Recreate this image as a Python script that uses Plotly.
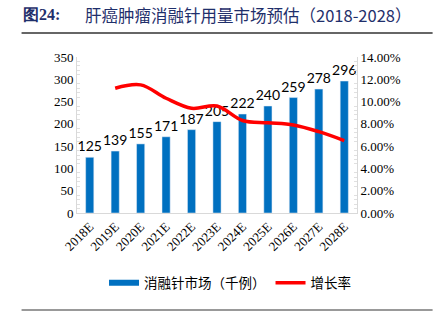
import plotly.graph_objects as go

years = ["2018E", "2019E", "2020E", "2021E", "2022E", "2023E", "2024E", "2025E", "2026E", "2027E", "2028E"]
market = [125, 139, 155, 171, 187, 205, 222, 240, 259, 278, 296]
growth = [None, 0.112, 0.115, 0.103, 0.094, 0.096, 0.083, 0.081, 0.079, 0.073, 0.065]

bar_name = "消融针市场（千例）"
line_name = "增长率"
title_num = "图24:"
title_text = "肝癌肿瘤消融针用量市场预估（2018-2028）"

BLUE = "#0070C0"
RED = "#FF0000"
NAVY = "#1F2F6B"
SERIF = "Liberation Serif, Times New Roman, serif"
CJK = "Noto Sans CJK SC"

fig = go.Figure()
fig.add_trace(go.Bar(
    x=years, y=market, marker_color=BLUE, width=0.32,
    text=[str(v) for v in market], textposition="outside", cliponaxis=False,
    constraintext="none",
    textfont=dict(family="Lato, Open Sans, sans-serif", size=14, color="#000000"),
    showlegend=False, name=bar_name,
))
fig.add_trace(go.Scatter(
    x=years, y=growth, yaxis="y2", mode="lines",
    line=dict(color=RED, width=3.5, shape="spline", smoothing=1.0),
    name=line_name, showlegend=True,
))
# legend entry for bars drawn as a line sample
fig.add_trace(go.Scatter(x=[None], y=[None], mode="lines",
                         line=dict(color=BLUE, width=6), name=bar_name))

fig.update_layout(
    width=434, height=329,
    margin=dict(l=77, r=77, t=57, b=116),
    plot_bgcolor="white", paper_bgcolor="white",
    bargap=0.6,
    xaxis=dict(
        type="category", tickangle=-45, showline=True, linecolor="#d9d9d9", linewidth=1,
        ticks="", tickfont=dict(family=SERIF, size=13, color="#000"),
    ),
    yaxis=dict(
        range=[0, 350], dtick=50, showgrid=False, zeroline=False,
        showline=True, linecolor="#d9d9d9", linewidth=1,
        ticks="", tickfont=dict(family=SERIF, size=13, color="#000"),
        minor=dict(ticks="inside", ticklen=3, tickcolor="#e0e0e0", dtick=10, showgrid=False),
    ),
    yaxis2=dict(
        range=[0, 0.14], dtick=0.02, tickformat=".2%", overlaying="y", side="right",
        showgrid=False, zeroline=False, showline=True, linecolor="#d9d9d9", linewidth=1,
        ticks="", tickfont=dict(family=SERIF, size=13, color="#000"),
        minor=dict(ticks="inside", ticklen=3, tickcolor="#e0e0e0", dtick=0.004, showgrid=False),
    ),
    legend=dict(
        orientation="h", xref="container", yref="container",
        x=0.53, xanchor="center", y=0.14, yanchor="middle",
        font=dict(family=CJK, size=13.5, color="#000"), traceorder="reversed",
        itemwidth=30,
    ),
    showlegend=True,
)

fig.add_annotation(
    xref="paper", yref="paper", x=-0.2, y=1.27, xanchor="left", yanchor="middle",
    text=f"<b>{title_num}</b>", showarrow=False,
    font=dict(family=SERIF, size=16, color=NAVY),
)
fig.add_annotation(
    xref="paper", yref="paper", x=0.021, y=1.27, xanchor="left", yanchor="middle",
    text=title_text, showarrow=False,
    font=dict(family=CJK, size=16.5, color=NAVY),
)
fig.add_shape(type="line", xref="paper", yref="paper", x0=-0.198, x1=1.27, y0=1.154, y1=1.154,
              line=dict(color="#333", width=1.5))
fig.add_shape(type="line", xref="paper", yref="paper", x0=-0.198, x1=1.27, y0=-0.622, y1=-0.622,
              line=dict(color="#999", width=2))

fig.write_html("out.html")
